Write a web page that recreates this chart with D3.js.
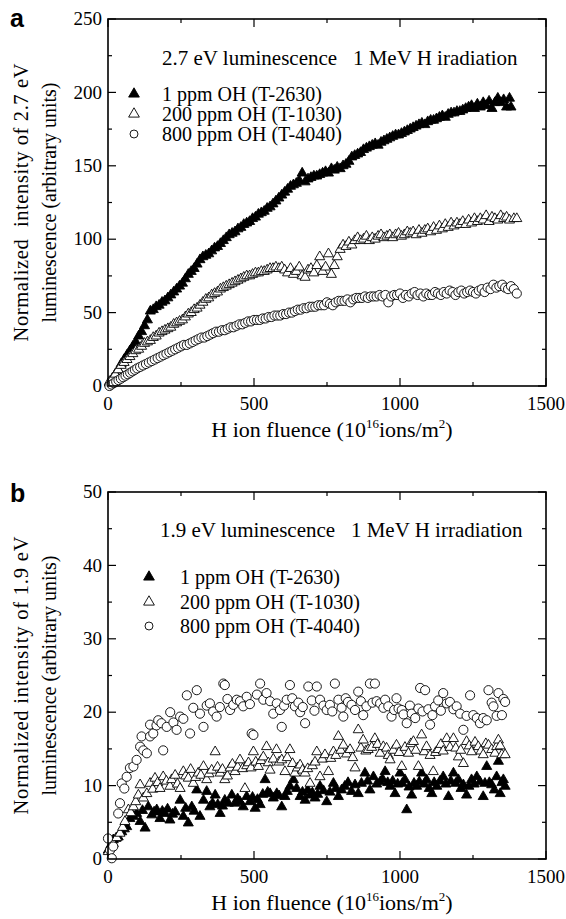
<!DOCTYPE html>
<html>
<head>
<meta charset="utf-8">
<script src="https://cdn.jsdelivr.net/npm/d3@7"></script>
<style>
  body { margin: 0; background: #fff; }
  svg { display: block; }
  text { font-family: "Liberation Serif", "Times New Roman", serif; fill: #000; }
</style>
</head>
<body>
<div id="graphicContainer"></div>
<script>
// ---- data ----
var xTicks = [0, 500, 1000, 1500]
var yTicksA = [0, 50, 100, 150, 200, 250]
var yTicksB = [0, 10, 20, 30, 40, 50]
var seriesNames = ["1 ppm OH (T-2630)", "200 ppm OH (T-1030)", "800 ppm OH (T-4040)"]

// panel a: 2.7 eV luminescence, [fluence, intensity]
var a1ppm = [[5,2],[15,5],[25,8],[35,11],[45,15],[55,18],[65,21],[75,24],[85,27],[95,30],[105,34],[115,37],[125,41],[135,45],[145,51],[155,52],[165,54],[175,55],[185,57],[195,58],[205,60],[215,62],[225,64],[235,66],[245,68],[255,70],[265,73],[275,76],[285,78],[295,80],[305,83],[315,86],[325,88],[335,89],[345,90],[355,92],[365,94],[375,95],[385,97],[395,99],[405,101],[415,103],[425,104],[435,105],[445,107],[455,108],[465,110],[475,111],[485,112],[495,114],[505,115],[515,117],[525,118],[535,119],[545,121],[555,122],[565,124],[575,126],[585,128],[595,130],[605,132],[615,134],[625,136],[635,137],[645,138],[655,140],[665,145],[675,139],[685,141],[695,142],[705,143],[715,143],[725,144],[735,145],[745,146],[755,145],[765,148],[775,147],[785,149],[795,148],[805,150],[815,151],[825,153],[835,156],[845,157],[855,158],[865,159],[875,161],[885,162],[895,163],[905,164],[915,165],[925,164],[935,166],[945,167],[955,168],[965,169],[975,170],[985,171],[995,171],[1005,172],[1015,173],[1025,174],[1035,175],[1045,176],[1055,177],[1065,178],[1075,179],[1085,178],[1095,180],[1105,181],[1115,181],[1125,182],[1135,183],[1145,184],[1155,183],[1165,185],[1175,186],[1185,186],[1195,187],[1205,187],[1215,188],[1225,189],[1235,190],[1245,191],[1255,189],[1265,192],[1275,190],[1285,193],[1295,191],[1305,194],[1315,189],[1325,193],[1335,196],[1345,193],[1355,195],[1365,190],[1375,196],[1380,190]]
var a200ppm = [[5,3],[15,5],[25,8],[35,11],[45,14],[55,16],[65,18],[75,20],[85,22],[95,24],[105,25],[115,27],[125,29],[135,30],[145,31],[155,33],[165,34],[175,36],[185,37],[195,38],[205,39],[215,40],[225,42],[235,43],[245,44],[255,45],[265,47],[275,49],[285,50],[295,52],[305,53],[315,55],[325,57],[335,59],[345,60],[355,62],[365,63],[375,64],[385,66],[395,67],[405,68],[415,69],[425,70],[435,71],[445,72],[455,73],[465,74],[475,75],[485,75],[495,76],[505,77],[515,77],[525,78],[535,78],[545,79],[555,80],[565,80],[575,81],[585,80],[595,81],[605,79],[615,77],[625,80],[635,76],[645,78],[655,81],[665,75],[675,74],[685,79],[695,80],[705,77],[715,82],[725,88],[735,78],[745,81],[755,90],[765,76],[775,82],[785,88],[795,93],[805,96],[815,95],[825,98],[835,96],[845,99],[855,101],[865,99],[875,100],[885,102],[895,99],[905,101],[915,100],[925,102],[935,103],[945,101],[955,102],[965,103],[975,101],[985,103],[995,104],[1005,102],[1015,103],[1025,105],[1035,104],[1045,105],[1055,103],[1065,106],[1075,104],[1085,106],[1095,107],[1105,105],[1115,108],[1125,106],[1135,109],[1145,107],[1155,110],[1165,108],[1175,111],[1185,109],[1195,111],[1205,110],[1215,112],[1225,110],[1235,113],[1245,111],[1255,114],[1265,112],[1275,114],[1285,113],[1295,116],[1305,112],[1315,115],[1325,114],[1335,113],[1345,116],[1355,114],[1365,115],[1375,113],[1390,114],[1400,114]]
var a800ppm = [[5,0],[12,1],[20,2],[28,3],[36,4],[44,5],[52,6],[60,7],[68,8],[76,9],[84,10],[92,11],[100,12],[110,13],[120,14],[130,15],[140,16],[150,17],[160,18],[170,19],[180,20],[190,21],[200,22],[210,23],[220,24],[230,25],[240,26],[250,27],[260,28],[270,28],[280,29],[290,30],[300,31],[310,32],[320,33],[330,33],[340,34],[350,35],[360,36],[370,37],[380,37],[390,38],[400,38],[410,39],[420,40],[430,40],[440,41],[450,42],[460,42],[470,43],[480,44],[490,44],[500,45],[510,45],[520,45],[530,46],[540,46],[550,47],[560,47],[570,48],[580,48],[590,48],[600,49],[610,49],[620,50],[630,50],[640,51],[650,52],[660,52],[670,53],[680,53],[690,54],[700,54],[710,54],[720,55],[730,55],[740,55],[750,57],[760,56],[770,55],[780,57],[790,58],[800,58],[810,58],[820,59],[830,57],[840,59],[850,60],[860,60],[870,60],[880,61],[890,60],[900,61],[910,61],[920,61],[930,62],[940,61],[950,62],[960,57],[970,61],[980,62],[990,62],[1000,63],[1010,60],[1020,62],[1030,61],[1040,63],[1050,64],[1060,62],[1070,63],[1080,61],[1090,63],[1100,62],[1110,62],[1120,64],[1130,63],[1140,62],[1150,64],[1160,63],[1170,65],[1180,64],[1190,62],[1200,64],[1210,65],[1220,63],[1230,64],[1240,65],[1250,64],[1260,63],[1270,65],[1280,66],[1290,64],[1300,67],[1310,66],[1320,69],[1330,67],[1340,68],[1350,69],[1360,67],[1370,66],[1380,68],[1390,66],[1400,63]]

// panel b: 1.9 eV luminescence
var b1ppm = [[1,1.2],[10,1.9],[18,2.6],[27,2.8],[35,3],[47,3.7],[56,4.1],[64,4.4],[75,5.5],[87,5.8],[98,6.2],[110,5.1],[118,6.6],[127,4.2],[138,7.1],[150,6],[158,6.4],[167,6.7],[178,5.5],[186,6.5],[195,6.2],[204,6.8],[212,5.3],[221,6.1],[230,6.4],[247,8],[258,5.8],[266,6.9],[275,4.9],[287,7.1],[295,6.5],[304,9.4],[315,5.8],[327,8],[338,9.2],[349,7.1],[358,7.6],[367,8.7],[376,7.4],[384,6.2],[392,7.2],[400,8],[412,7.6],[424,8.7],[435,7.6],[444,8.2],[452,7.8],[463,7.1],[475,8.5],[486,7.8],[495,8.4],[504,6.9],[512,8.1],[521,7.4],[530,8.8],[538,10.8],[547,9.1],[555,8.9],[566,8.3],[578,8.9],[586,8.6],[595,7.1],[606,8.5],[614,9.2],[623,9.9],[635,10.8],[646,9.6],[658,8.5],[666,9.1],[675,8],[684,9.4],[692,8.7],[700,9],[709,8.3],[718,8.8],[726,9.9],[738,9.3],[749,7.8],[760,9.1],[772,10.3],[780,9.6],[789,8.5],[800,9.4],[811,9.9],[822,10.4],[834,9.2],[846,10.1],[857,8.9],[868,10.3],[880,11.7],[889,10.6],[897,9.4],[909,11.2],[920,10.2],[932,10.5],[940,10.9],[949,11.9],[958,10.4],[966,9.9],[975,10.6],[983,8.9],[992,10.2],[1000,11.7],[1008,10.3],[1017,10.8],[1023,6.7],[1031,9.8],[1040,8.7],[1048,10.3],[1057,9.9],[1066,10.5],[1074,11.7],[1083,10.2],[1091,10.8],[1100,9.6],[1109,8.9],[1117,10.4],[1126,9.9],[1137,10.6],[1148,11.2],[1157,10.2],[1166,8.5],[1174,10.6],[1183,11.7],[1191,10.3],[1200,10.8],[1209,9.6],[1217,10.1],[1228,8.7],[1236,9.9],[1245,10.8],[1254,10.2],[1263,11.2],[1274,10.5],[1285,8.5],[1291,10.3],[1297,12.6],[1306,10.4],[1314,10.1],[1323,9.4],[1331,11.2],[1337,13.3],[1343,8.9],[1349,10.4],[1354,10.8],[1360,9.9]]
var b200ppm = [[1,1],[10,1.6],[18,2.1],[30,2.9],[41,3.5],[50,4.3],[58,5.1],[70,6.7],[78,6.3],[87,7.1],[95,7.8],[104,8.7],[110,10.1],[121,8.3],[133,8.9],[144,10.3],[153,9.5],[161,11],[170,10.4],[178,9.6],[189,11.2],[200,10.6],[212,9.9],[218,10.8],[230,11.4],[238,10.2],[247,9.6],[258,11.9],[266,11.3],[275,11],[283,12.2],[292,10.3],[300,11.1],[309,11.7],[318,11.4],[327,12.6],[338,10.8],[346,11.6],[355,12.1],[367,14.6],[375,12.5],[384,11.7],[392,12.2],[400,10.8],[409,11.3],[418,12.4],[426,12.9],[435,11.9],[444,12.5],[452,13.5],[461,12.3],[469,9.6],[475,12.7],[481,13.1],[490,12.4],[498,14.6],[506,13.2],[515,12.6],[524,13.4],[532,13.9],[543,15.3],[549,13.1],[555,12.1],[566,13.6],[577,14.9],[586,13.2],[595,13.5],[606,11.9],[614,13.8],[623,14.9],[632,13],[640,11.7],[649,12.4],[658,12.8],[666,12.1],[675,11.7],[684,12.3],[692,10.3],[700,12.7],[709,13.2],[715,14.6],[726,11.2],[734,13.6],[743,14.2],[755,11.9],[763,13.7],[772,14.6],[780,14.1],[789,16.7],[797,14.8],[806,15.5],[817,14.3],[829,14.9],[838,13.8],[846,12.4],[857,17.6],[866,15.1],[874,16.2],[883,14.7],[891,14.9],[903,15.2],[914,16.4],[923,15.6],[932,14.4],[943,15.3],[954,15.1],[960,14.1],[966,13.5],[977,14.8],[988,15.5],[997,14.5],[1006,12.6],[1017,15.2],[1029,14.4],[1037,15.7],[1046,16],[1054,14.8],[1063,12.6],[1074,16.9],[1083,14.6],[1091,15.3],[1103,14.1],[1114,11.9],[1122,14.5],[1131,14.9],[1140,15.6],[1148,14.7],[1160,16.4],[1171,15.2],[1183,16.4],[1191,15.1],[1200,13.9],[1208,14.8],[1217,13],[1228,16],[1237,15.4],[1245,14.6],[1257,15.9],[1268,15.3],[1277,14.7],[1285,14.2],[1294,15.7],[1303,15.5],[1314,14.9],[1325,14.4],[1331,15.3],[1337,16.2],[1343,15.4],[1349,14.2],[1360,14.2]]
var b800ppm = [[0,2.8],[7,1.2],[13,0.1],[18,1.7],[35,6.2],[41,7.6],[47,10.3],[56,9.6],[64,11.2],[75,12.4],[87,12.6],[98,13.5],[110,15.3],[115,16.7],[121,14.8],[133,14.4],[144,16.7],[144,18.3],[155,17.1],[166,18.2],[172,18.9],[183,18.5],[189,14.8],[201,18],[213,20],[224,18.6],[235,17.6],[247,19.4],[258,19.1],[270,22.3],[281,17.1],[292,20.6],[304,23],[315,19.8],[327,18],[338,20.9],[349,21.2],[360,20.1],[372,19.4],[383,20.7],[395,23.9],[400,23.7],[409,21.8],[418,20.3],[429,21],[441,21.7],[452,21.5],[463,20.8],[475,22.1],[486,21.1],[492,17.1],[498,16.9],[510,22.4],[521,23.9],[532,21.7],[543,22.6],[555,21.5],[566,19.8],[578,21.2],[589,20.3],[595,18],[603,20.9],[612,21.7],[623,23.7],[631,21.9],[640,20.8],[652,21.3],[658,20],[667,20.7],[675,18.5],[686,23.5],[698,21.6],[707,20.2],[715,23.5],[726,21.7],[738,20.9],[749,20.3],[760,21],[768,20.1],[777,23.9],[789,21.7],[800,20.6],[806,19.4],[814,21.9],[822,21.4],[834,21],[846,20.3],[857,22.8],[866,21.5],[874,19.6],[885,20.8],[897,23.9],[906,21.3],[914,23.9],[920,21.5],[932,21.2],[943,20.6],[949,21.7],[960,20.8],[971,19.4],[980,20.3],[988,21.9],[995,20.5],[1006,20.3],[1012,19.7],[1023,18.5],[1034,20.9],[1040,19.8],[1052,19.2],[1063,20.5],[1069,23.3],[1077,20.1],[1086,23],[1097,20.4],[1103,18.3],[1111,19.6],[1120,20.8],[1131,21.6],[1140,20.2],[1148,22.6],[1160,21.2],[1171,21.4],[1183,20.4],[1194,20.8],[1206,19.8],[1217,17.6],[1228,19.5],[1240,22.3],[1251,19.6],[1263,19.2],[1274,18.5],[1285,19.2],[1297,18.9],[1303,23],[1314,21.3],[1320,20.8],[1331,19.5],[1337,22.6],[1349,19.6],[1354,21.8],[1360,21.4]]

var W = 566, H = 919
var svg = d3.select("#graphicContainer").append("svg")
  .attr("width", W)
  .attr("height", H)

var plotLeft = 108, plotRight = 546

drawPanel({
  top: 19, bottom: 386,
  yMax: 250, yTicks: yTicksA, yMinorStep: 25,
  series: [a1ppm, a200ppm, a800ppm],
  letter: "a", letterY: 27,
  yTitle1: "Normalized  intensity of 2.7 eV",
  yTitle2: "luminescence (arbitrary units)",
  note: "2.7 eV luminescence   1 MeV H iradiation",
  noteX: 162, noteY: 65,
  legendMarkX: 134, legendTextX: 162, legendY: [95, 115, 135]
})

drawPanel({
  top: 492, bottom: 859,
  yMax: 50, yTicks: yTicksB, yMinorStep: 5,
  series: [b1ppm, b200ppm, b800ppm],
  letter: "b", letterY: 502,
  yTitle1: "Normalized intensity of 1.9 eV",
  yTitle2: "luminescence (arbitrary units)",
  note: "1.9 eV luminescence   1 MeV H irradiation",
  noteX: 160, noteY: 537,
  legendMarkX: 149, legendTextX: 180, legendY: [578, 603, 627]
})

function drawPanel(p) {
  var x = d3.scaleLinear().domain([0, 1500]).range([plotLeft, plotRight])
  var y = d3.scaleLinear().domain([0, p.yMax]).range([p.bottom, p.top])
  var g = svg.append("g")

  var xMinor = d3.range(0, 1501, 250)
  var yMinor = d3.range(0, p.yMax + 0.001, p.yMinorStep)
  var major = 8, minor = 4

  // inward ticks on all four sides
  xMinor.forEach(function (v) {
    var len = (v % 500 === 0) ? major : minor
    g.append("line").attr("x1", x(v)).attr("x2", x(v)).attr("y1", p.bottom).attr("y2", p.bottom - len).attr("stroke", "#000").attr("stroke-width", 1.2)
    g.append("line").attr("x1", x(v)).attr("x2", x(v)).attr("y1", p.top).attr("y2", p.top + len).attr("stroke", "#000").attr("stroke-width", 1.2)
  })
  yMinor.forEach(function (v, i) {
    var len = (i % 2 === 0) ? major : minor
    g.append("line").attr("y1", y(v)).attr("y2", y(v)).attr("x1", plotLeft).attr("x2", plotLeft + len).attr("stroke", "#000").attr("stroke-width", 1.2)
    g.append("line").attr("y1", y(v)).attr("y2", y(v)).attr("x1", plotRight).attr("x2", plotRight - len).attr("stroke", "#000").attr("stroke-width", 1.2)
  })

  // tick labels
  g.selectAll(".xl").data(xTicks).enter().append("text")
    .attr("x", function (d) { return x(d) })
    .attr("y", p.bottom + 24)
    .attr("text-anchor", "middle")
    .style("font-size", "19px")
    .text(function (d) { return d })
  g.selectAll(".yl").data(p.yTicks).enter().append("text")
    .attr("x", plotLeft - 6)
    .attr("y", function (d) { return y(d) })
    .attr("dy", "0.33em")
    .attr("text-anchor", "end")
    .style("font-size", "19px")
    .text(function (d) { return d })

  // data
  var symTri = d3.symbol().type(d3.symbolTriangle).size(44)
  var symCirc = d3.symbol().type(d3.symbolCircle).size(66)
  var styles = [
    { path: symTri(), fill: "#000" },
    { path: symTri(), fill: "#fff" },
    { path: symCirc(), fill: "#fff" }
  ]
  p.series.forEach(function (s, si) {
    g.selectAll(".pt" + si).data(s).enter().append("path")
      .attr("d", styles[si].path)
      .attr("transform", function (d) { return "translate(" + x(d[0]) + "," + y(d[1]) + ")" })
      .attr("fill", styles[si].fill)
      .attr("stroke", "#000")
      .attr("stroke-width", 0.9)
  })

  // frame
  g.append("rect")
    .attr("x", plotLeft).attr("y", p.top)
    .attr("width", plotRight - plotLeft).attr("height", p.bottom - p.top)
    .attr("fill", "none").attr("stroke", "#000").attr("stroke-width", 1.6)

  // annotation and legend
  g.append("text").attr("x", p.noteX).attr("y", p.noteY)
    .style("font-size", "21px").attr("xml:space", "preserve")
    .text(p.note)
  var legTri = d3.symbol().type(d3.symbolTriangle).size(50)
  var legCirc = d3.symbol().type(d3.symbolCircle).size(50)
  var legPaths = [legTri(), legTri(), legCirc()]
  seriesNames.forEach(function (name, i) {
    g.append("path").attr("d", legPaths[i])
      .attr("transform", "translate(" + p.legendMarkX + "," + (p.legendY[i] - 1) + ")")
      .attr("fill", styles[i].fill).attr("stroke", "#000").attr("stroke-width", 0.9)
    g.append("text").attr("x", p.legendTextX).attr("y", p.legendY[i] + 6)
      .style("font-size", "20px").text(name)
  })

  // axis titles
  var xt = g.append("text")
    .attr("x", (plotLeft + plotRight) / 2 + 5)
    .attr("y", p.bottom + 51)
    .attr("text-anchor", "middle")
    .style("font-size", "22px")
  xt.append("tspan").text("H ion fluence (10")
  xt.append("tspan").attr("dy", -9).style("font-size", "13px").text("16")
  xt.append("tspan").attr("dy", 9).text("ions/m")
  xt.append("tspan").attr("dy", -9).style("font-size", "13px").text("2")
  xt.append("tspan").attr("dy", 9).text(")")

  var cy = (p.top + p.bottom) / 2
  g.append("text")
    .attr("transform", "translate(28," + cy + ") rotate(-90)")
    .attr("text-anchor", "middle").attr("xml:space", "preserve")
    .attr("textLength", 278).attr("lengthAdjust", "spacing")
    .style("font-size", "20.5px")
    .text(p.yTitle1)
  g.append("text")
    .attr("transform", "translate(56," + cy + ") rotate(-90)")
    .attr("text-anchor", "middle")
    .style("font-size", "20px")
    .text(p.yTitle2)

  // panel letter
  g.append("text")
    .attr("x", 10).attr("y", p.letterY)
    .style("font-family", "'Liberation Sans', Arial, sans-serif")
    .style("font-weight", "bold")
    .style("font-size", "25px")
    .text(p.letter)
}
</script>
</body>
</html>
